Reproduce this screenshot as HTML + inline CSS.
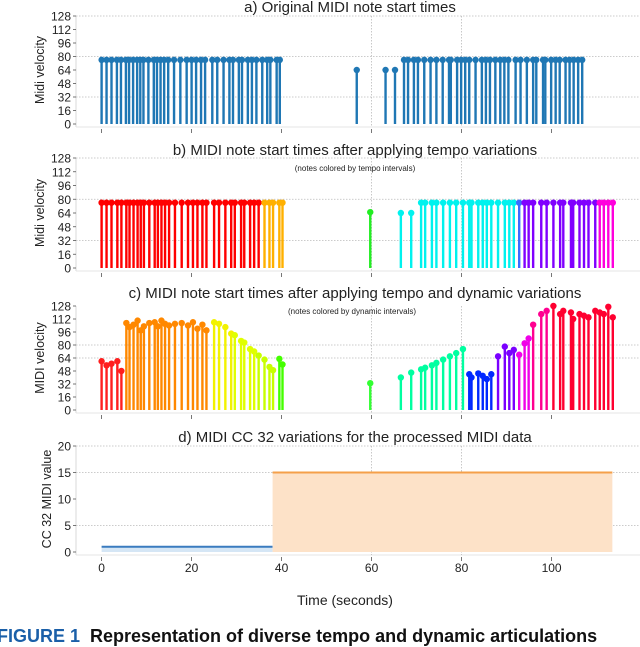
<!DOCTYPE html>
<html><head><meta charset="utf-8">
<style>
html,body{margin:0;padding:0;background:#fff;width:640px;height:640px;overflow:hidden}
svg{display:block;font-family:"Liberation Sans","DejaVu Sans",sans-serif}
.cap{position:absolute;left:-3px;top:626px;font:bold 18px "Liberation Sans",sans-serif;white-space:nowrap;color:#111}
.cap span{color:#1a5fa8}
</style></head><body>
<svg id="chart" width="640" height="640" viewBox="0 0 640 640"></svg>
<div class="cap"><span>FIGURE 1</span>&nbsp; Representation of diverse tempo and dynamic articulations</div>
<script>
const timesA=[0,1.1,2.2,3.4,4.3,5.4,6.1,7.0,7.9,8.6,9.3,10.4,11.6,12.3,13.1,13.9,14.8,16.1,17.5,18.9,20.0,21.0,22.1,23.0,24.6,25.7,27.1,28.4,29.2,30.5,31.2,32.5,33.4,34.4,35.7,36.8,37.5,38.9,39.6,
56.7,63.1,65.2,67.2,68.1,69.4,70.3,71.7,73.1,74.4,75.8,77.2,77.6,79.0,79.9,80.8,81.7,83.1,84.5,85.4,86.3,87.5,88.6,89.5,90.4,92.0,93.1,94.5,95.9,96.6,98.1,98.6,99.9,100.9,101.8,103.1,104.0,104.9,105.9,106.8];
const velA=[76,76,76,76,76,76,76,76,76,76,76,76,76,76,76,76,76,76,76,76,76,76,76,76,76,76,76,76,76,76,76,76,76,76,76,76,76,76,76,
64,64,64,76,76,76,76,76,76,76,76,76,76,76,76,76,76,76,76,76,76,76,76,76,76,76,76,76,76,76,76,76,76,76,76,76,76,76,76,76];
const timesB=[0,1.1,2.2,3.5,4.4,5.5,6.2,7.1,8.0,8.7,9.4,10.6,11.8,12.5,13.3,14.1,15.0,16.3,17.8,19.2,20.3,21.3,22.4,23.3,25.0,26.1,27.5,28.8,29.6,31.0,31.7,33.0,33.9,34.9,36.2,37.3,38.1,39.5,40.2,
59.7,66.5,68.8,71.0,71.9,73.4,74.4,75.9,77.4,78.8,80.3,81.7,82.2,83.7,84.7,85.6,86.6,88.1,89.6,90.6,91.6,92.8,94.0,94.9,95.9,97.7,98.9,100.4,101.9,102.6,104.3,104.8,106.2,107.2,108.2,109.7,110.7,111.6,112.6,113.6];
const velB=[76,76,76,76,76,76,76,76,76,76,76,76,76,76,76,76,76,76,76,76,76,76,76,76,76,76,76,76,76,76,76,76,76,76,76,76,76,76,76,
65,64,64,76,76,76,76,76,76,76,76,76,76,76,76,76,76,76,76,76,76,76,76,76,76,76,76,76,76,76,76,76,76,76,76,76,76,76,76,76];
const velC=[60,55,57,60,48,107,102,105,110,98,103,107,108,103,110,106,104,106,107,104,108,100,105,98,108,106,102,94,92,85,83,75,72,67,62,53,49,63,56,
33,40,46,50,52,55,58,62,66,70,75,44,40,45,42,38,44,66,78,70,74,68,82,88,105,118,122,128,118,122,120,112,118,116,114,122,120,118,127,114];
const breaksB=[35,41,61,92,93.5,110.2,115];
const colorsB=['#ff0000','#ffb000','#22ee22','#00f2ee','#3a6cff','#8000ff','#ff00dd'];
const breaksC=[5,24.5,29,34,39,41,62,81,87.5,92.5,95.5,100,115];
const colorsC=['#ff1f1f','#ff8800','#f2f200','#e0ff00','#c8ff00','#44ff00','#33ff33','#00ffa0','#0028ff','#7a00ff','#f000e8','#ff0090','#ff0030'];
const ccStarts=[0,38];
const ccEnds=[38,113.5];
const ccValues=[1,15];
const ccLine=['#3a7bbf','#f5a04a'];
const ccFill=['#d5e6f5','#fde2c8'];
const xTicks=[0,20,40,60,80,100];
const yTicksV=[0,16,32,48,64,80,96,112,128];
const yTicksCC=[0,5,10,15,20];

const NS='http://www.w3.org/2000/svg';
const svg=document.getElementById('chart');
function mk(tag,attrs,parent){const e=document.createElementNS(NS,tag);for(const k in attrs)e.setAttribute(k,attrs[k]);(parent||svg).appendChild(e);return e;}
const X0=101.6,XS=4.5;
function xs(t){return X0+t*XS;}
function colorFor(t,breaks,colors){for(let i=0;i<breaks.length;i++){if(t<breaks[i])return colors[i];}return colors[colors.length-1];}

function panel(p){
  const g=mk('g',{});
  
  
  const ys=v=>p.y0-(v-p.min)/(p.max-p.min)*(p.y0-p.y1);
  const ax=mk('line',{x1:76,y1:p.y1,x2:76,y2:p.y0+3,stroke:'#d8d8d8','stroke-width':1},g);
  
  const bx=mk('line',{x1:76,y1:p.y0+3,x2:640,y2:p.y0+3,stroke:'#e4e4e4','stroke-width':1},g);
  
  p.grid.forEach(v=>{const l=mk('line',{x1:76,x2:640,y1:ys(v),y2:ys(v),stroke:'#bbb','stroke-width':0.8,'stroke-dasharray':'1.5,1.5'},g);
    });
  [60,80].forEach(t=>{const l=mk('line',{x1:xs(t),x2:xs(t),y1:p.y1,y2:p.y0+3,stroke:'#bbb','stroke-width':0.8,'stroke-dasharray':'1.5,1.5'},g);
    });
  p.ticks.forEach(v=>{
    const tl=mk('line',{x1:73,x2:76,y1:ys(v),y2:ys(v),stroke:'#555','stroke-width':0.8},g);
    
    const tx=mk('text',{x:71,y:ys(v)+4.5,'text-anchor':'end','font-size':12,fill:'#222'},g);
    tx.textContent=v;
  });
  xTicks.forEach(t=>{const tl=mk('line',{x1:xs(t),x2:xs(t),y1:p.y0+5,y2:p.y0+9,stroke:'#555','stroke-width':0.8},g);
    });
  const ti=mk('text',{x:p.tx,y:p.ty,'text-anchor':'middle','font-size':15,fill:'#222'},g);
  ti.textContent=p.title;
  if(p.sub){const s=mk('text',{x:p.sx,y:p.sy,'text-anchor':'middle','font-size':8,fill:'#222'},g);
    s.textContent=p.sub;}
  const yl=mk('text',{x:0,y:0,'text-anchor':'middle','font-size':12.5,fill:'#222',transform:`translate(${p.ylx},${(p.y0+p.y1)/2}) rotate(-90)`},g);
  yl.textContent=p.ylabel;
  if(p.times){
    p.times.forEach((t,i)=>{
      const c=p.colorFn(t);
      const v=p.vals[i];
      const st=mk('line',{x1:xs(t),x2:xs(t),y1:ys(0),y2:ys(v),stroke:c,'stroke-width':2.4},g);
      
      const m=mk('circle',{cx:xs(t),cy:ys(v),r:3.2,fill:c},g);
      
    });
  }
  return {g,ys};
}

panel({name:'panel-a',y0:124,y1:16,min:0,max:128,grid:[128,80,32],ticks:yTicksV,title:'a) Original MIDI note start times',tx:350,ty:12,ylabel:'Midi velocity',ylx:44,
  times:timesA,vals:velA,colorFn:()=>'#1f77b4'});
panel({name:'panel-b',y0:268,y1:158,min:0,max:128,grid:[128,80,32],ticks:yTicksV,title:'b) MIDI note start times after applying tempo variations',tx:355,ty:155,ylabel:'Midi velocity',ylx:44,
  sub:'(notes colored by tempo intervals)',sx:355,sy:171,
  times:timesB,vals:velB,colorFn:t=>colorFor(t,breaksB,colorsB)});
panel({name:'panel-c',y0:410,y1:306,min:0,max:128,grid:[80,64],ticks:yTicksV,title:'c) MIDI note start times after applying tempo and dynamic variations',tx:355,ty:298,ylabel:'MIDI velocity',ylx:44,
  sub:'(notes colored by dynamic intervals)',sx:352,sy:314,
  times:timesB,vals:velC,colorFn:t=>colorFor(t,breaksC,colorsC)});
const pd=panel({name:'panel-d',y0:552,y1:446,min:0,max:20,grid:[20,15,5],ticks:yTicksCC,title:'d) MIDI CC 32 variations for the processed MIDI data',tx:355,ty:442,ylabel:'CC 32 MIDI value',ylx:51});
ccValues.forEach((v,i)=>{
  const r=mk('rect',{x:xs(ccStarts[i]),y:pd.ys(v),width:xs(ccEnds[i])-xs(ccStarts[i]),height:pd.ys(0)-pd.ys(v),fill:ccFill[i]},pd.g);
  
  const l=mk('line',{x1:xs(ccStarts[i]),x2:xs(ccEnds[i]),y1:pd.ys(v),y2:pd.ys(v),stroke:ccLine[i],'stroke-width':2},pd.g);
  
});
xTicks.forEach(t=>{
  const tx=mk('text',{x:xs(t),y:572,'text-anchor':'middle','font-size':12,fill:'#222'});
  tx.textContent=t;
  
  
});
const xt=mk('text',{x:345,y:605,'text-anchor':'middle','font-size':14,fill:'#222'});
xt.textContent='Time (seconds)';


</script>
</body></html>
